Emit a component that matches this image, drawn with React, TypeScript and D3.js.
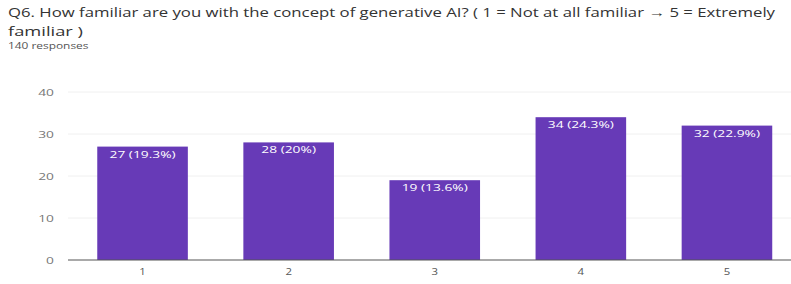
import React from 'react';
import * as d3 from 'd3';

const categories = ['1', '2', '3', '4', '5'];
const counts = [27, 28, 19, 34, 32];
const percents = ['19.3%', '20%', '13.6%', '24.3%', '22.9%'];
const yTicks = [0, 10, 20, 30, 40];

const W = 791;
const H = 284;
const font = '"Open Sans", Arial, sans-serif';

// the screenshot is a bit stretched sideways, so small texts get widened
const Wide = ({ x, y, sx = 1.45, anchor = 'start', size, fill, children }: any) => (
  <text transform={`translate(${x},${y}) scale(${sx},1)`} textAnchor={anchor}
    fontFamily={font} fontSize={size} fill={fill}>{children}</text>
);

const App = () => {
  const x = d3.scaleBand<string>()
    .domain(categories)
    .range([69.5, 800])
    .paddingInner(0.38)
    .paddingOuter(0.19);

  const y = d3.scaleLinear().domain([0, 40]).range([260, 92]);

  return (
    <svg width={W} height={H} style={{ position: 'absolute', left: 0, top: 0, background: '#fff' }}>
      {/* title */}
      <text x={8} y={17} fontFamily={font} fontSize={13.5} fill="#333" textLength={767} lengthAdjust="spacingAndGlyphs">
        Q6. How familiar are you with the concept of generative AI?  ( 1 = Not at all familiar → 5 = Extremely
      </text>
      <text x={8} y={36} fontFamily={font} fontSize={13.5} fill="#333" textLength={75} lengthAdjust="spacingAndGlyphs">familiar )</text>
      <Wide x={8} y={49} size={8.5} fill="#555" sx={1.4}>140 responses</Wide>

      {/* grid + y labels */}
      {yTicks.map(t => (
        <g key={t}>
          {t > 0 && <line x1={68} x2={791} y1={y(t)} y2={y(t)} stroke="#f0f0f0" strokeWidth={1} />}
          <Wide x={54} y={y(t) + 3.5} anchor="end" size={9.5} fill="#777">{t}</Wide>
        </g>
      ))}

      {/* bars */}
      {categories.map((c, i) => (
        <g key={c}>
          <rect x={x(c)} y={y(counts[i])} width={x.bandwidth()} height={y(0) - y(counts[i])} fill="#673ab7" />
          <Wide x={x(c)! + x.bandwidth() / 2} y={y(counts[i]) + 11} anchor="middle" size={9.5} fill="#fff">
            {`${counts[i]} (${percents[i]})`}
          </Wide>
          <Wide x={x(c)! + x.bandwidth() / 2} y={y(0) + 15} anchor="middle" size={9.5} fill="#555" sx={1.2}>{c}</Wide>
        </g>
      ))}

      {/* baseline */}
      <line x1={68} x2={791} y1={y(0)} y2={y(0)} stroke="#555" strokeWidth={1} />
    </svg>
  );
};

export default App;
